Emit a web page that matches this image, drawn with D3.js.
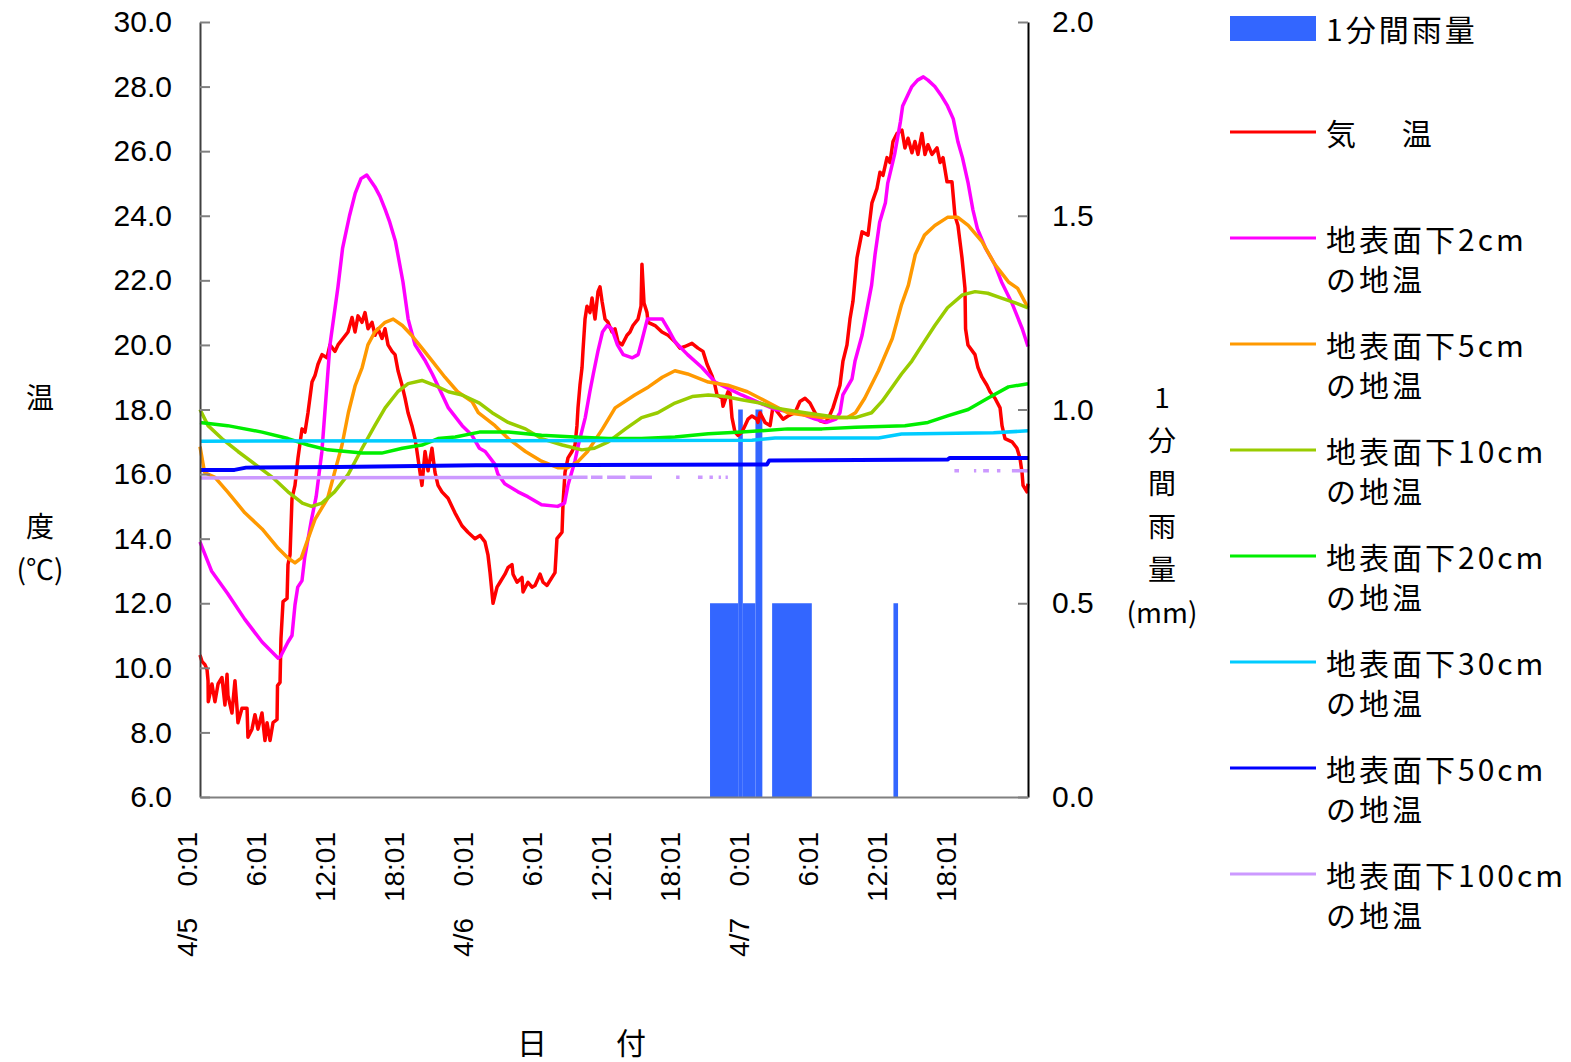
<!DOCTYPE html>
<html>
<head>
<meta charset="utf-8">
<script src="https://cdn.jsdelivr.net/npm/d3@7"></script>
<style>
  html, body { margin: 0; padding: 0; background: #fff; }
  svg { display: block; }
</style>
</head>
<body>
<svg id="chart" width="1571" height="1062"></svg>
<script>
// ---- Data: hours since 4/5 0:01, values in °C (temperatures) or mm (rain) ----

// 1-minute rainfall, grouped into runs: [from hour, to hour, mm]
const rainRuns = [
  [44.35, 46.8, 0.5], [46.8, 47.2, 1.0], [47.2, 48.3, 0.5], [48.3, 48.9, 1.0],
  [49.75, 53.2, 0.5], [60.3, 60.7, 0.5]
];

// Air temperature
const airTemp = [
  [0,10.4],[0.17,10.2],[0.43,10.1],[0.61,9.95],[0.7,9.6],[0.72,8.95],[1.04,9.5],[1.3,8.95],[1.57,9.5],[1.91,9.7],
  [2.17,8.85],[2.35,9.8],[2.43,9.15],[2.78,8.6],[3.04,9.6],[3.22,8.75],[3.3,8.3],[3.65,8.75],[4.09,8.75],[4.17,7.85],
  [4.52,8.1],[4.78,8.55],[5.04,8.1],[5.39,8.6],[5.65,7.75],[5.83,8.3],[6.09,7.75],[6.35,8.3],[6.7,8.4],[6.74,9.45],
  [6.96,9.55],[7.04,10.9],[7.22,12.05],[7.57,12.15],[7.65,13.2],[7.83,13.5],[8.0,15.25],[8.26,15.65],[8.52,16.5],[8.87,17.4],
  [9.13,17.3],[9.39,17.9],[9.74,18.85],[10.0,19.05],[10.26,19.4],[10.61,19.7],[11.04,19.6],[11.3,20.0],[11.74,19.8],[12.0,20.0],
  [12.43,20.2],[12.87,20.4],[13.22,20.85],[13.48,20.4],[13.74,20.9],[14.09,20.7],[14.35,21.0],[14.61,20.5],[14.96,20.7],[15.22,20.3],
  [15.48,20.5],[15.83,20.2],[16.09,20.5],[16.35,20.0],[16.7,19.8],[16.96,19.7],[17.22,19.2],[17.57,18.75],[17.83,18.35],[18.09,17.9],
  [18.43,17.5],[18.7,17.1],[18.87,16.7],[19.13,16.06],[19.3,15.65],[19.57,16.7],[19.83,16.1],[20.17,16.8],[20.43,16.06],[20.7,15.65],
  [21.04,15.45],[21.57,15.25],[22.17,14.8],[22.78,14.4],[23.3,14.2],[23.91,14.0],[24.35,14.1],[24.78,13.9],[25.04,13.5],[25.22,12.95],
  [25.48,12.0],[25.83,12.5],[26.09,12.65],[26.52,12.9],[26.78,13.1],[27.13,13.2],[27.22,12.9],[27.57,12.65],[28.0,12.8],[28.09,12.35],
  [28.52,12.65],[28.87,12.5],[29.13,12.55],[29.57,12.9],[29.83,12.65],[30.17,12.55],[30.61,12.8],[30.87,12.95],[30.96,13.5],[31.04,14.0],
  [31.48,14.2],[31.57,15.1],[31.74,16.05],[32.0,16.5],[32.35,16.7],[32.61,16.9],[32.78,17.5],[32.87,18.05],[33.04,18.75],[33.22,19.3],
  [33.3,19.8],[33.48,20.8],[33.65,21.2],[33.91,21.0],[34.09,21.45],[34.35,20.8],[34.61,21.65],[34.78,21.8],[34.96,21.35],[35.22,20.8],
  [35.48,20.7],[35.83,20.4],[36.09,20.5],[36.35,20.1],[36.7,20.0],[37.13,20.3],[37.39,20.4],[37.65,20.6],[38.09,20.8],[38.35,21.2],
  [38.43,22.5],[38.61,21.3],[38.87,21.0],[38.96,20.7],[39.57,20.6],[40.17,20.4],[40.7,20.3],[41.3,20.1],[41.74,19.9],[42.17,19.95],
  [42.78,20.05],[43.3,19.9],[43.74,19.8],[44.09,19.4],[44.52,19.05],[44.78,18.75],[44.96,18.45],[45.39,18.35],[45.48,18.1],[45.91,18.55],
  [46.09,18.5],[46.26,17.75],[46.52,17.3],[46.78,17.2],[47.13,17.3],[47.39,17.5],[47.65,17.7],[48.0,17.8],[48.43,17.7],[48.52,17.6],
  [48.7,17.9],[49.13,17.6],[49.57,17.5],[49.83,18.1],[50.26,17.9],[50.7,17.7],[51.13,17.8],[51.74,17.9],[52.17,18.25],[52.61,18.35],
  [53.04,18.2],[53.48,17.9],[53.91,17.65],[54.35,17.6],[54.61,17.7],[55.04,18.05],[55.39,18.45],[55.65,18.75],[55.91,19.5],[56.26,20.0],
  [56.52,20.8],[56.78,21.35],[57.13,22.7],[57.57,23.5],[58.09,23.4],[58.43,24.4],[58.87,24.85],[59.13,25.35],[59.39,25.25],[59.74,25.8],
  [60.0,25.65],[60.26,26.3],[60.61,26.55],[61.04,26.65],[61.3,26.1],[61.57,26.4],[61.91,25.95],[62.17,26.3],[62.43,25.9],[62.78,26.55],
  [63.04,25.9],[63.3,26.2],[63.65,25.9],[64.09,26.1],[64.35,25.65],[64.61,25.8],[64.96,25.05],[65.39,25.05],[65.65,24.0],[65.91,23.7],
  [66.26,22.7],[66.52,21.75],[66.57,20.5],[66.78,20.0],[67.39,19.7],[67.65,19.3],[68.0,19.0],[68.43,18.75],[68.7,18.55],[69.13,18.35],
  [69.57,18.05],[69.74,17.5],[70.0,17.1],[70.61,17.0],[71.04,16.8],[71.3,16.5],[71.48,16.05],[71.57,15.65],[71.91,15.45],[72,15.7]
];

// Soil temperature 2 cm below surface
const soil2cm = [
  [0,13.9],[1.0,13.0],[2.4,12.3],[3.9,11.5],[5.4,10.8],[6.8,10.3],[7.0,10.35],[7.65,10.8],[8.0,11.0],[8.26,11.95],
  [8.5,12.5],[8.87,12.7],[9.1,13.4],[9.7,14.6],[10.1,15.3],[10.6,16.7],[11.3,20.0],[12.0,21.8],[12.4,23.0],[12.7,23.5],
  [13.0,24.0],[13.5,24.7],[14.0,25.15],[14.5,25.26],[15.2,24.9],[15.65,24.6],[16.1,24.2],[16.5,23.8],[17.0,23.2],[17.65,21.95],
  [18.1,20.8],[18.7,20.0],[19.6,19.5],[20.2,19.1],[21.0,18.5],[21.6,18.05],[22.8,17.5],[23.65,17.2],[24.3,16.8],[24.8,16.7],
  [25.65,16.3],[25.9,16.0],[26.5,15.7],[27.65,15.45],[28.5,15.3],[29.7,15.05],[31.1,15.0],[31.7,15.1],[32.0,15.66],[32.6,16.4],
  [32.9,16.9],[33.5,17.75],[33.9,18.55],[34.2,19.1],[34.6,19.8],[35.0,20.4],[35.4,20.6],[35.8,20.5],[36.3,20.0],[36.8,19.7],
  [37.6,19.6],[38.1,19.7],[38.4,20.1],[38.9,20.8],[40.2,20.8],[40.7,20.5],[41.3,20.1],[42.4,19.7],[43.65,19.3],[44.8,18.85],
  [45.65,18.7],[47.1,18.45],[48.7,18.2],[50.0,18.0],[52.0,17.9],[53.5,17.7],[54.5,17.6],[55.3,17.7],[55.65,17.9],[55.9,18.45],
  [56.7,18.95],[56.96,19.5],[57.57,20.3],[58.0,21.1],[58.4,21.85],[58.7,22.8],[59.1,23.8],[59.6,24.4],[59.8,25.0],[60.4,25.9],
  [60.9,26.9],[61.1,27.4],[61.5,27.7],[61.9,28.0],[62.4,28.2],[62.9,28.3],[63.3,28.2],[63.9,28.0],[64.5,27.7],[65.0,27.4],
  [65.5,27.0],[65.9,26.3],[66.3,25.8],[66.8,25.0],[67.2,24.2],[67.6,23.6],[68.3,23.0],[69.1,22.5],[69.7,21.95],[70.6,21.3],
  [71.5,20.5],[72,19.95]
];

// Soil temperature 5 cm
const soil5cm = [
  [0,16.85],[0.4,16.05],[1.3,15.9],[2.4,15.45],[3.9,14.8],[5.4,14.3],[6.8,13.7],[7.65,13.4],[8.26,13.25],[8.8,13.4],
  [9.4,14.0],[10.0,14.6],[11.1,15.25],[11.7,16.05],[12.35,16.9],[12.9,17.9],[13.5,18.75],[14.1,19.3],[14.6,20.0],[15.2,20.4],
  [16.1,20.7],[16.8,20.8],[17.6,20.6],[18.4,20.3],[19.3,19.9],[20.2,19.5],[21.3,19.0],[22.4,18.55],[23.65,18.25],[24.2,17.9],
  [25.65,17.5],[26.8,17.1],[28.3,16.7],[29.7,16.4],[31.1,16.2],[32.0,16.2],[32.9,16.4],[33.7,16.7],[35.0,17.4],[36.1,18.05],
  [37.8,18.45],[39.0,18.7],[40.2,19.0],[41.3,19.2],[42.4,19.1],[44.2,18.85],[45.9,18.75],[47.6,18.55],[48.7,18.35],[51.1,17.9],
  [54.1,17.75],[56.3,17.75],[57.0,17.9],[57.8,18.35],[59.0,19.2],[60.2,20.2],[61.0,21.25],[61.6,21.85],[62.2,22.8],[63.0,23.4],
  [63.9,23.7],[65.0,23.95],[65.9,23.95],[66.8,23.7],[68.0,23.2],[69.1,22.5],[70.3,21.95],[71.1,21.75],[72,21.15]
];

// Soil temperature 10 cm
const soil10cm = [
  [0,18.0],[0.7,17.5],[1.9,17.1],[3.3,16.7],[4.8,16.3],[6.3,15.9],[7.65,15.45],[8.9,15.1],[9.7,15.0],[10.6,15.1],
  [11.7,15.45],[12.9,16.0],[14.1,16.8],[15.2,17.5],[16.1,18.05],[17.2,18.55],[18.1,18.8],[19.3,18.9],[20.4,18.75],[21.6,18.55],
  [22.8,18.45],[24.3,18.2],[25.4,17.9],[26.8,17.6],[28.3,17.4],[29.7,17.1],[31.5,16.9],[33.2,16.75],[34.3,16.8],[35.5,17.0],
  [37.0,17.4],[38.4,17.75],[39.8,17.9],[41.3,18.2],[42.8,18.4],[44.2,18.45],[45.65,18.4],[47.1,18.3],[48.7,18.2],[50.0,18.05],
  [52.6,17.9],[55.5,17.75],[57.0,17.75],[58.4,17.9],[59.3,18.25],[60.2,18.7],[61.0,19.1],[61.9,19.5],[62.8,20.0],[63.9,20.6],
  [65.0,21.15],[66.3,21.55],[67.4,21.65],[68.5,21.6],[69.7,21.45],[70.9,21.3],[72,21.15]
];

// Soil temperature 20 cm
const soil20cm = [
  [0,17.6],[2.4,17.5],[5.4,17.3],[7.65,17.1],[9.4,16.9],[11.1,16.75],[14.1,16.65],[15.8,16.65],[17.6,16.8],[19.3,16.9],
  [20.7,17.1],[22.2,17.15],[24.3,17.3],[26.8,17.3],[29.7,17.2],[32.6,17.15],[35.5,17.1],[38.4,17.1],[41.3,17.15],[44.2,17.25],
  [47.1,17.3],[51.1,17.4],[54.1,17.4],[57.0,17.45],[61.3,17.5],[63.3,17.6],[65.0,17.8],[66.8,18.0],[68.5,18.35],[70.3,18.7],[72,18.8]
];

// Soil temperature 30 cm
const soil30cm = [
  [0,17.02],[24,17.03],[48,17.05],[50,17.12],[59,17.12],[61,17.24],[69,17.28],[72,17.34]
];

// Soil temperature 50 cm
const soil50cm = [
  [0,16.13],[3,16.13],[4,16.2],[12,16.22],[24,16.27],[48,16.3],[49.3,16.3],[49.5,16.42],[65,16.45],[65.2,16.5],[72,16.5]
];

// Soil temperature 100 cm (null = no reading)
const soil100cm = [
  [0,15.88],[33.7,15.9],[33.8,null],[34.0,15.9],[35.0,15.9],[35.1,null],[35.4,15.9],[37.0,15.9],[37.1,null],
  [37.4,15.9],[39.3,15.9],[39.4,null],[41.4,15.9],[41.7,15.9],[41.8,null],[43.3,15.9],[43.7,15.9],[43.8,null],
  [44.3,15.9],[44.6,15.9],[44.7,null],[45.1,15.9],[45.3,15.9],[45.4,null],[45.7,15.9],[45.9,15.9],[46.0,null],
  [65.6,16.1],[66.0,16.1],[66.1,null],[67.3,16.1],[67.5,16.1],[67.6,null],[68.1,16.1],[68.6,16.1],[68.7,null],
  [69.3,16.1],[69.6,16.1],[69.7,null],[70.6,16.1],[72,16.1]
];

// Axis labels
const tempTicks = [6, 8, 10, 12, 14, 16, 18, 20, 22, 24, 26, 28, 30];
const rainTicks = [0, 0.5, 1.0, 1.5, 2.0];
const timeTickHours = [0, 6, 12, 18, 24, 30, 36, 42, 48, 54, 60, 66];
const timeTickLabels = ["0:01","6:01","12:01","18:01","0:01","6:01","12:01","18:01","0:01","6:01","12:01","18:01"];
const dateTickHours = [0, 24, 48];
const dateTickLabels = ["4/5", "4/6", "4/7"];

const seriesNames = [
  "気　 温", "地表面下2cm\nの地温", "地表面下5cm\nの地温", "地表面下10cm\nの地温",
  "地表面下20cm\nの地温", "地表面下30cm\nの地温", "地表面下50cm\nの地温", "地表面下100cm\nの地温"
];
const seriesData = [airTemp, soil2cm, soil5cm, soil10cm, soil20cm, soil30cm, soil50cm, soil100cm];
const seriesColors = ["#ff0000", "#ff00ff", "#ff9900", "#99cc00", "#00ee00", "#00ccff", "#0000ff", "#cc99ff"];
const rainName = "1分間雨量";
const rainColor = "#3366ff";

// ---- Drawing ----
const svg = d3.select("#chart");
const cjk = "'Noto Sans CJK JP', 'Noto Sans', sans-serif";
const latin = "'Liberation Sans', Arial, sans-serif";

const x = d3.scaleLinear().domain([0, 72]).range([200, 1028]);
const y = d3.scaleLinear().domain([6, 30]).range([797, 22]);
const yRain = d3.scaleLinear().domain([0, 2]).range([797, 22]);

// rain bars (secondary axis)
svg.append("g").selectAll("rect").data(rainRuns).join("rect")
  .attr("x", d => x(d[0]))
  .attr("width", d => x(d[1]) - x(d[0]))
  .attr("y", d => yRain(d[2]))
  .attr("height", d => yRain(0) - yRain(d[2]))
  .attr("fill", rainColor);

// temperature lines
const line = d3.line()
  .defined(d => d[1] != null)
  .x(d => x(d[0]))
  .y(d => y(d[1]));

const strokeWidths = [3.5, 3.5, 3.5, 3.5, 3.5, 3.5, 4, 3.5];
svg.append("g").selectAll("path").data(seriesData).join("path")
  .attr("d", d => line(d))
  .attr("fill", "none")
  .attr("stroke", (d, i) => seriesColors[i])
  .attr("stroke-width", (d, i) => strokeWidths[i])
  .attr("stroke-linejoin", "round");

// left axis
const gL = svg.append("g").attr("transform", "translate(200,0)")
  .call(d3.axisLeft(y).tickValues(tempTicks).tickFormat(d3.format(".1f"))
    .tickSizeInner(-10).tickSizeOuter(0).tickPadding(28));
gL.attr("font-size", 30).attr("font-family", latin);
gL.select(".domain").attr("stroke", "#404040").attr("stroke-width", 2);
gL.selectAll(".tick line").attr("stroke", "#808080").attr("stroke-width", 2);
gL.selectAll(".tick text").attr("fill", "#000");

// right axis
const gR = svg.append("g").attr("transform", "translate(1028,0)")
  .call(d3.axisRight(yRain).tickValues(rainTicks).tickFormat(d3.format(".1f"))
    .tickSizeInner(-10).tickSizeOuter(0).tickPadding(24));
gR.attr("font-size", 30).attr("font-family", latin);
gR.select(".domain").attr("stroke", "#000").attr("stroke-width", 2);
gR.selectAll(".tick line").attr("stroke", "#808080").attr("stroke-width", 2);
gR.selectAll(".tick text").attr("fill", "#000");

// bottom axis: times
const gB = svg.append("g").attr("transform", "translate(0,797)")
  .call(d3.axisBottom(x).tickValues(timeTickHours).tickFormat((d, i) => timeTickLabels[i])
    .tickSize(0).tickSizeOuter(0));
gB.attr("font-size", 28).attr("font-family", latin);
gB.select(".domain").attr("stroke", "#808080").attr("stroke-width", 2);
gB.selectAll(".tick text").attr("fill", "#000")
  .attr("transform", "rotate(-90)").attr("text-anchor", "end")
  .attr("x", -35).attr("y", -13).attr("dy", "0.35em");

// bottom axis: dates
const gD = svg.append("g").attr("transform", "translate(0,797)")
  .call(d3.axisBottom(x).tickValues(dateTickHours).tickFormat((d, i) => dateTickLabels[i]).tickSize(0));
gD.attr("font-size", 28).attr("font-family", latin);
gD.select(".domain").remove();
gD.selectAll(".tick text").attr("fill", "#000")
  .attr("transform", "rotate(-90)").attr("text-anchor", "end")
  .attr("x", -121).attr("y", -13).attr("dy", "0.35em");

// axis titles
const leftTitle = ["温", "", "", "度", "(℃)"];
svg.append("g").selectAll("text").data(leftTitle).join("text")
  .attr("x", 40).attr("y", (d, i) => 398 + i * 43).attr("dy", "0.35em")
  .attr("text-anchor", "middle").attr("font-size", 28).attr("font-family", cjk)
  .text(d => d);

const rightTitle = ["1", "分", "間", "雨", "量", "(mm)"];
svg.append("g").selectAll("text").data(rightTitle).join("text")
  .attr("x", 1162).attr("y", (d, i) => 398 + i * 43).attr("dy", "0.35em")
  .attr("text-anchor", "middle").attr("font-size", 28).attr("font-family", cjk)
  .text(d => d);

svg.append("text").attr("x", 517).attr("y", 1043).attr("dy", "0.35em")
  .attr("font-size", 30).attr("font-family", cjk).attr("letter-spacing", 3)
  .text("日　　付");

// legend
const legend = svg.append("g");
legend.append("rect").attr("x", 1230).attr("y", 16).attr("width", 86).attr("height", 25).attr("fill", rainColor);
legend.append("text").attr("x", 1326).attr("y", 30).attr("dy", "0.35em")
  .attr("font-size", 30).attr("font-family", cjk).attr("letter-spacing", 3).text(rainName);

seriesNames.forEach((name, i) => {
  const ly = 132 + i * 106;
  legend.append("line").attr("x1", 1230).attr("x2", 1316).attr("y1", ly).attr("y2", ly)
    .attr("stroke", seriesColors[i]).attr("stroke-width", 3);
  const t = legend.append("text").attr("font-size", 30).attr("font-family", cjk).attr("letter-spacing", 3);
  name.split("\n").forEach((part, k) => {
    t.append("tspan").attr("x", 1326).attr("y", ly + 2 + k * 40).attr("dy", "0.35em").text(part);
  });
});
</script>
</body>
</html>
